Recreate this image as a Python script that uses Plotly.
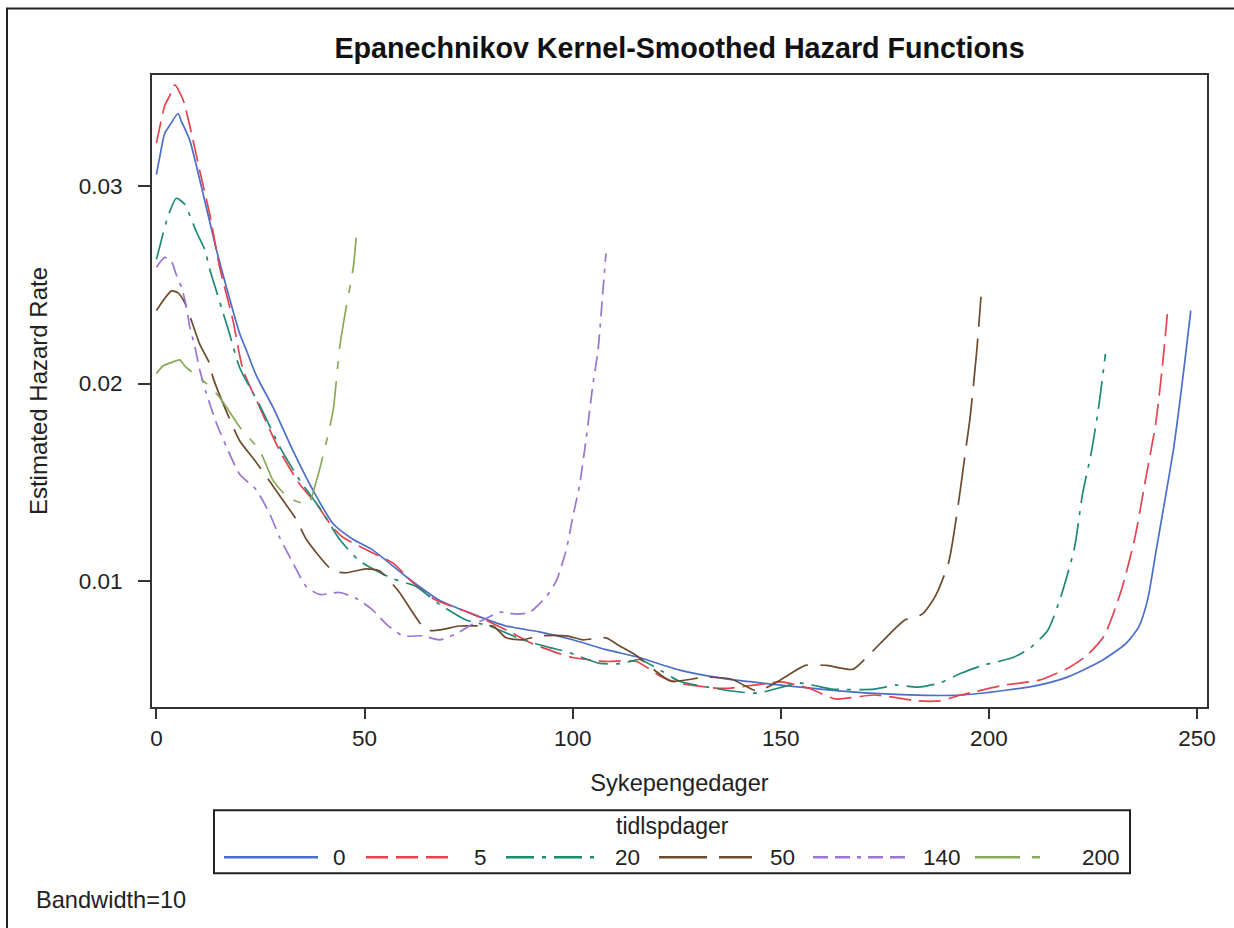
import plotly.graph_objects as go

# ---------------- data ----------------
groups = ["0", "5", "20", "50", "140", "200"]

x_0 = [0, 0.8, 2, 3.2, 5.2, 6, 8, 10.8, 14.4, 16.8, 20, 21.6, 24, 28, 32.8, 37.6, 42.4, 47.2, 52, 60, 68, 76, 84, 92,
       100, 108, 116, 125.7, 136.1, 150, 167, 183, 193, 204, 212, 219, 226.6, 232.9, 236, 238.1, 240.2, 242.3,
       244.3, 245.4, 247, 248.5]
y_0 = [0.0306, 0.0315, 0.0327, 0.0331, 0.0337, 0.0333, 0.03235, 0.0300, 0.0268, 0.0249, 0.02254, 0.0217, 0.0204,
       0.0188, 0.0166, 0.0146, 0.0129, 0.0121, 0.01155, 0.0102, 0.0090, 0.0083, 0.0077, 0.0074, 0.0070, 0.0065,
       0.0061, 0.00546, 0.00504, 0.0047, 0.00436, 0.00419, 0.00419, 0.00444, 0.0047, 0.00512, 0.00588, 0.00681,
       0.00766, 0.0090, 0.01155, 0.0141, 0.0166, 0.0183, 0.0210, 0.0237]

x_5 = [0, 0.8, 2, 3.2, 4.4, 6.4, 8.8, 10.4, 12.8, 15.2, 18.4, 20.8, 24.8, 29.6, 34.4, 38.4, 42.4, 44.8, 52, 56.8,
       61.6, 66.4, 76, 84, 90.4, 96.8, 100, 108, 115.3, 121.5, 125.7, 136.1, 146.5, 150.2, 156.9, 163.2, 172.5,
       182.9, 188.1, 193.3, 203.7, 212.1, 219.3, 223.5, 227.7, 231.8, 235, 237.7, 240.1, 241.7, 242.9]
y_5 = [0.0322, 0.0330, 0.0341, 0.0346, 0.03515, 0.0344, 0.03235, 0.0308, 0.0286, 0.0259, 0.0232, 0.0207, 0.0188,
       0.0166, 0.0149, 0.0139, 0.0127, 0.0122, 0.0114, 0.0109, 0.0099, 0.0091, 0.0083, 0.0075, 0.0068, 0.0063,
       0.0061, 0.0059, 0.0059, 0.0051, 0.0048, 0.00453, 0.00478, 0.00486, 0.00453, 0.0040, 0.0042, 0.0039,
       0.0039, 0.0042, 0.0047, 0.00495, 0.0056, 0.0062, 0.0072, 0.0095, 0.0121, 0.0152, 0.0180, 0.0209, 0.0236]

x_20 = [0, 1.6, 2.8, 4.8, 6.8, 8, 9.6, 11.6, 12.8, 14.4, 16, 17.6, 20, 24.8, 29.6, 34.4, 39.2, 44, 48.8, 56.8, 62.4,
        68, 74.4, 80, 88, 94.5, 98.5, 106.5, 112.1, 116, 121.5, 125.7, 138.2, 144.4, 154.8, 162.1, 172.5, 177.7,
        182.9, 188.1, 193.3, 198.5, 205.8, 210, 214.2, 217.3, 220.5, 222.5, 224.6, 226.3, 228]
y_20 = [0.0263, 0.0276, 0.0285, 0.0294, 0.0291, 0.02855, 0.0277, 0.0268, 0.0258, 0.0247, 0.0236, 0.0225, 0.0208,
        0.0189, 0.0168, 0.0151, 0.0137, 0.0121, 0.0110, 0.0101, 0.0097, 0.0088, 0.0080, 0.0077, 0.0070, 0.0066,
        0.0064, 0.0058, 0.0058, 0.0060, 0.0054, 0.0049, 0.0044, 0.0043, 0.0048, 0.0045, 0.0045, 0.0047, 0.0046,
        0.0048, 0.0053, 0.0057, 0.0061, 0.0066, 0.0075, 0.0092, 0.0116, 0.0144, 0.0165, 0.0187, 0.0215]

x_50 = [0, 1.6, 3.6, 5.2, 6.8, 8.4, 10.4, 12.8, 13.6, 17.6, 20, 24, 28, 33.6, 36, 42.4, 45.6, 50.4, 53.6, 56, 58.4,
        64.8, 68, 72.8, 77.6, 80.9, 84, 88, 92, 98.5, 102.5, 108, 111.2, 115.3, 119.4, 123.6, 131.9, 138.2, 144.4,
        150.2, 155.9, 161.1, 167.3, 171.5, 175.7, 179.8, 184, 187.1, 190.3, 192.8, 194.4, 195.5, 197.1, 198.1]
y_50 = [0.0237, 0.0242, 0.0247, 0.0246, 0.0241, 0.0232, 0.0220, 0.0210, 0.0203, 0.0182, 0.0171, 0.0160, 0.0148,
        0.0131, 0.0121, 0.0105, 0.0104, 0.0106, 0.0105, 0.0100, 0.0094, 0.0075, 0.0075, 0.0077, 0.0077, 0.0077,
        0.0071, 0.0070, 0.0072, 0.0072, 0.0070, 0.0071, 0.0067, 0.0062, 0.0055, 0.0049, 0.0051, 0.0050, 0.0044,
        0.0050, 0.0057, 0.0057, 0.0055, 0.0063, 0.0072, 0.0080, 0.0083, 0.0092, 0.0109, 0.0141, 0.0166, 0.0183,
        0.0217, 0.0244]

x_140 = [0, 2, 3.6, 4.8, 6, 7.2, 8, 9.2, 10.4, 12, 14.4, 16.8, 20, 24, 27.2, 29.6, 32.8, 36, 39.2, 44, 48, 52, 55.2,
         59.2, 64, 68, 72, 76, 78.5, 82.5, 86.5, 89.7, 93.7, 96.1, 98.5, 100, 101.7, 103.3, 104.9, 106.1, 107.2, 108]
y_140 = [0.0259, 0.0264, 0.0262, 0.0255, 0.0249, 0.0239, 0.0229, 0.0219, 0.0207, 0.0195, 0.0180, 0.0168, 0.0154,
         0.0146, 0.0134, 0.0122, 0.0109, 0.0097, 0.0093, 0.0094, 0.0091, 0.0085, 0.0078, 0.0072, 0.0072, 0.0070,
         0.0073, 0.0078, 0.0080, 0.0084, 0.0083, 0.0084, 0.0092, 0.0100, 0.0116, 0.0132, 0.0149, 0.0173, 0.0200,
         0.0217, 0.0245, 0.0266]

x_200 = [0, 1.6, 4, 5.6, 6.8, 9, 12, 15.2, 20, 24.8, 28, 31.2, 34, 36.5, 38.5, 40.9, 42.5, 44, 45.2, 47.3, 48]
y_200 = [0.0205, 0.0209, 0.0211, 0.0212, 0.0209, 0.0205, 0.0200, 0.0193, 0.0178, 0.0166, 0.0151, 0.0143, 0.0140,
         0.0139, 0.0151, 0.0171, 0.0187, 0.0218, 0.0234, 0.0259, 0.0274]

x_ticks = [0, 50, 100, 150, 200, 250]
y_ticks = [0.01, 0.02, 0.03]
y_tick_text = ["0.01", "0.02", "0.03"]

# ---------------- styles ----------------
xs = [x_0, x_5, x_20, x_50, x_140, x_200]
ys = [y_0, y_5, y_20, y_50, y_140, y_200]
colors = ["#4A6ECB", "#E5434F", "#1E8A76", "#6E4A2C", "#9B74D0", "#88AA58"]
dashes = ["solid", "22px,8px", "28px,8px,4px,8px", "48px,12px",
          "15px,7px,15px,7px,4px,7px", "45px,12px,8px,12px"]

FONT = "Arial, Liberation Sans, sans-serif"
TXT = "#222222"

W, H = 1234, 928
PL, PR, PT, PB = 152, 1207, 75, 706.8   # plot area in page pixels


def px(xp):
    return (xp - PL) / (PR - PL)


def py(yp):
    return (PB - yp) / (PB - PT)


fig = go.Figure()
for g, x, y, c, d in zip(groups, xs, ys, colors, dashes):
    fig.add_trace(go.Scatter(x=x, y=y, mode="lines", name=g, showlegend=False,
                             line=dict(color=c, width=1.7, dash=d, shape="spline", smoothing=0.6)))

axis_common = dict(showline=True, mirror=True, linecolor="#333333", linewidth=2,
                   ticks="outside", tickwidth=2, tickcolor="#333333",
                   showgrid=False, zeroline=False,
                   tickfont=dict(family=FONT, size=22.5, color=TXT))

fig.update_layout(
    width=W, height=H,
    margin=dict(l=PL, r=W - PR, t=PT, b=H - PB),
    paper_bgcolor="white", plot_bgcolor="white",
    font=dict(family=FONT, size=22, color=TXT),
    title=dict(text="<b>Epanechnikov Kernel-Smoothed Hazard Functions</b>",
               font=dict(family=FONT, size=28.7, color="#111111"),
               x=0.5, xref="paper", xanchor="center",
               y=1 - 48 / H, yref="container", yanchor="middle"),
    xaxis=dict(range=[-1.06, 252.4], tickvals=x_ticks, ticklen=10,
               title=dict(text="Sykepengedager", font=dict(family=FONT, size=23.6, color=TXT), standoff=24),
               **axis_common),
    yaxis=dict(range=[0.00359, 0.035653], tickvals=y_ticks, ticktext=y_tick_text, ticklen=12,
               ticklabelstandoff=11,
               title=dict(text="Estimated Hazard Rate", font=dict(family=FONT, size=24, color=TXT), standoff=24),
               **axis_common),
    showlegend=False,
)

# outer frame of the picture (top and left edges visible)
fig.add_shape(type="rect", xref="paper", yref="paper",
              x0=px(7), x1=px(1300), y0=py(1000), y1=py(8.5),
              line=dict(color="#222222", width=2), fillcolor="rgba(0,0,0,0)", layer="below")

# ---------------- legend box (drawn) ----------------
LX0, LX1, LY0, LY1 = 214, 1130, 810, 873
fig.add_shape(type="rect", xref="paper", yref="paper",
              x0=px(LX0), x1=px(LX1), y0=py(LY1), y1=py(LY0),
              line=dict(color="#222222", width=2), fillcolor="white")
fig.add_annotation(text="tidlspdager", xref="paper", yref="paper",
                   x=px(672), y=py(826), xanchor="center", yanchor="middle", showarrow=False,
                   font=dict(family=FONT, size=23, color=TXT))
sample_x = [(224, 318), (366, 450), (506, 598), (659, 752), (813, 905), (975, 1052)]
label_x = [331, 472, 613, 768, 921, 1080]
row_y = 857
for g, c, d, (s0, s1), lx in zip(groups, colors, dashes, sample_x, label_x):
    fig.add_shape(type="line", xref="paper", yref="paper",
                  x0=px(s0), x1=px(s1), y0=py(row_y), y1=py(row_y),
                  line=dict(color=c, width=2.5, dash=d))
    fig.add_annotation(text=g, xref="paper", yref="paper",
                       x=px(lx), y=py(row_y), xanchor="left", yanchor="middle", showarrow=False,
                       font=dict(family=FONT, size=22.5, color=TXT))

fig.add_annotation(text="Bandwidth=10", xref="paper", yref="paper",
                   x=px(34), y=py(900), xanchor="left", yanchor="middle",
                   showarrow=False, font=dict(family=FONT, size=23.6, color=TXT))

fig.write_html("out.html", config={"displayModeBar": False},
               post_script="document.body.style.margin='0px';")
